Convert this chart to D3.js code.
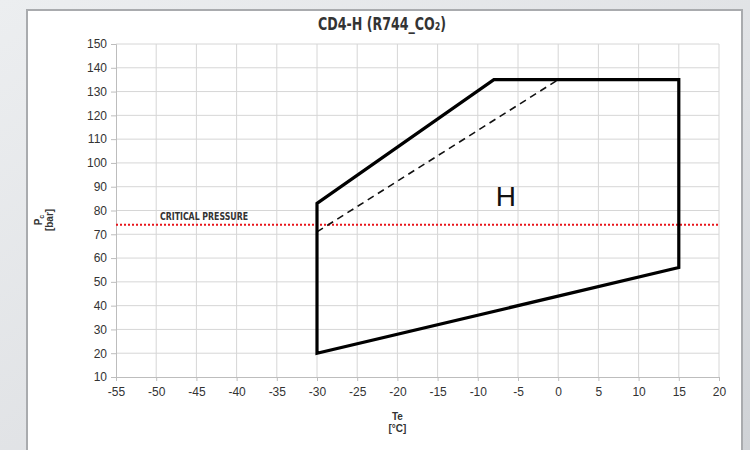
<!DOCTYPE html>
<html><head><meta charset="utf-8">
<script src="https://cdn.jsdelivr.net/npm/d3@7"></script>
<style>
html,body{margin:0;padding:0;}
body{width:750px;height:450px;overflow:hidden;}
</style></head>
<body>
<script>
const title = "CD4-H (R744_CO\u2082)";
const xTicks = [-55,-50,-45,-40,-35,-30,-25,-20,-15,-10,-5,0,5,10,15,20];
const yTicks = [10,20,30,40,50,60,70,80,90,100,110,120,130,140,150];
const envTe = [-30,-30,-8,15,15,-30];
const envPc = [20,83,135,135,56,20];
const dashTe = [-30,0];
const dashPc = [71,135];
const criticalPressure = 74;
const criticalLabel = "CRITICAL PRESSURE";
const regionLabel = "H";
const regionLabelPos = [-6.5, 85];

const W=750,H=450;
const svg=d3.select("body").append("svg").attr("width",W).attr("height",H);
const defs=svg.append("defs");
const g1=defs.append("linearGradient").attr("id","bg").attr("x1","0").attr("y1","0").attr("x2","1").attr("y2","1");
g1.append("stop").attr("offset","0").attr("stop-color","#eceef0");
g1.append("stop").attr("offset","0.6").attr("stop-color","#dfe1e4");
g1.append("stop").attr("offset","1").attr("stop-color","#cfd2d6");
svg.append("rect").attr("width",W).attr("height",H).attr("fill","url(#bg)");
// panel
svg.append("rect").attr("x",27).attr("y",10).attr("width",715).attr("height",450)
  .attr("fill","#fff").attr("stroke","#a9abae").attr("stroke-width",2);

const x=d3.scaleLinear().domain([-55,20]).range([116,719]);
const y=d3.scaleLinear().domain([10,150]).range([377,44]);

// grid
const grid=svg.append("g");
grid.selectAll("line.v").data(xTicks.slice(1)).join("line")
  .attr("x1",d=>x(d)).attr("x2",d=>x(d)).attr("y1",y(150)).attr("y2",y(10))
  .attr("stroke","#d6d6d6").attr("stroke-width",1);
grid.selectAll("line.h").data(yTicks.slice(1)).join("line")
  .attr("x1",x(-55)).attr("x2",x(20)).attr("y1",d=>y(d)).attr("y2",d=>y(d))
  .attr("stroke","#d6d6d6").attr("stroke-width",1);

// axes
const fmt=d=>String(d);
const xAxis=d3.axisBottom(x).tickValues(xTicks).tickSize(4).tickFormat(fmt);
const yAxis=d3.axisLeft(y).tickValues(yTicks).tickSize(5).tickFormat(fmt);
const ax=svg.append("g").attr("transform",`translate(0,${y(10)})`).call(xAxis);
const ay=svg.append("g").attr("transform",`translate(${x(-55)},0)`).call(yAxis);
[ax,ay].forEach(a=>{
  a.select(".domain").attr("stroke","#bdbdbd");
  a.selectAll(".tick line").attr("stroke","#bdbdbd");
  a.selectAll("text").attr("fill","#333").style("font-family","Arial, 'Liberation Sans', sans-serif").style("font-size","12px");
});
ax.selectAll("text").attr("dy","1.0em");
ay.selectAll("text").attr("x",-9);

// critical pressure
svg.append("line").attr("x1",x(-55)).attr("x2",x(20)).attr("y1",y(criticalPressure)).attr("y2",y(criticalPressure))
  .attr("stroke","#e8141b").attr("stroke-width",2).attr("stroke-dasharray","2,2");
svg.append("text").attr("x",160).attr("y",y(criticalPressure)-5).text(criticalLabel)
  .attr("fill","#333").style("font-family","'Liberation Sans Narrow','DejaVu Sans Condensed',sans-serif")
  .style("font-weight","bold").style("font-size","10px").attr("textLength",88).attr("lengthAdjust","spacingAndGlyphs");

// dashed
const line=d3.line().x(d=>x(d[0])).y(d=>y(d[1]));
svg.append("path").attr("d",line(d3.zip(dashTe,dashPc))).attr("fill","none")
  .attr("stroke","#111").attr("stroke-width",1.6).attr("stroke-dasharray","7,5");
// envelope
svg.append("path").attr("d",line(d3.zip(envTe,envPc))+"Z").attr("fill","none")
  .attr("stroke","#000").attr("stroke-width",3.2).attr("stroke-linejoin","miter");

svg.append("text").attr("x",x(regionLabelPos[0])).attr("y",y(regionLabelPos[1])).text(regionLabel)
  .attr("text-anchor","middle").attr("dominant-baseline","middle")
  .style("font-family","Arial, 'Liberation Sans', sans-serif").style("font-size","28px").attr("fill","#111");

// title
svg.append("text").attr("x",382).attr("y",30).text(title).attr("text-anchor","middle")
  .style("font-family","'Liberation Sans Narrow','DejaVu Sans Condensed',sans-serif").style("font-weight","bold")
  .style("font-size","18px").attr("fill","#333").attr("textLength",128).attr("lengthAdjust","spacingAndGlyphs");

// x label
const xl=svg.append("text").attr("x",x(-20)).attr("y",420).attr("text-anchor","middle")
  .style("font-family","Arial, 'Liberation Sans', sans-serif").style("font-weight","bold").style("font-size","10px").attr("fill","#333");
xl.append("tspan").attr("x",x(-20)).text("Te");
xl.append("tspan").attr("x",x(-20)).attr("dy","1.15em").text("[\u00B0C]");

// y label
const yl=svg.append("text").attr("transform",`translate(42,${y(76)}) rotate(-90)`).attr("text-anchor","middle")
  .style("font-family","Arial, 'Liberation Sans', sans-serif").style("font-weight","bold").style("font-size","10px").attr("fill","#333");
const t1=yl.append("tspan").attr("x",0).attr("y",0);
t1.append("tspan").text("P");
t1.append("tspan").attr("font-size","7px").attr("dy","2").text("c");
yl.append("tspan").attr("x",0).attr("y",11).text("[bar]");
</script>
</body></html>
